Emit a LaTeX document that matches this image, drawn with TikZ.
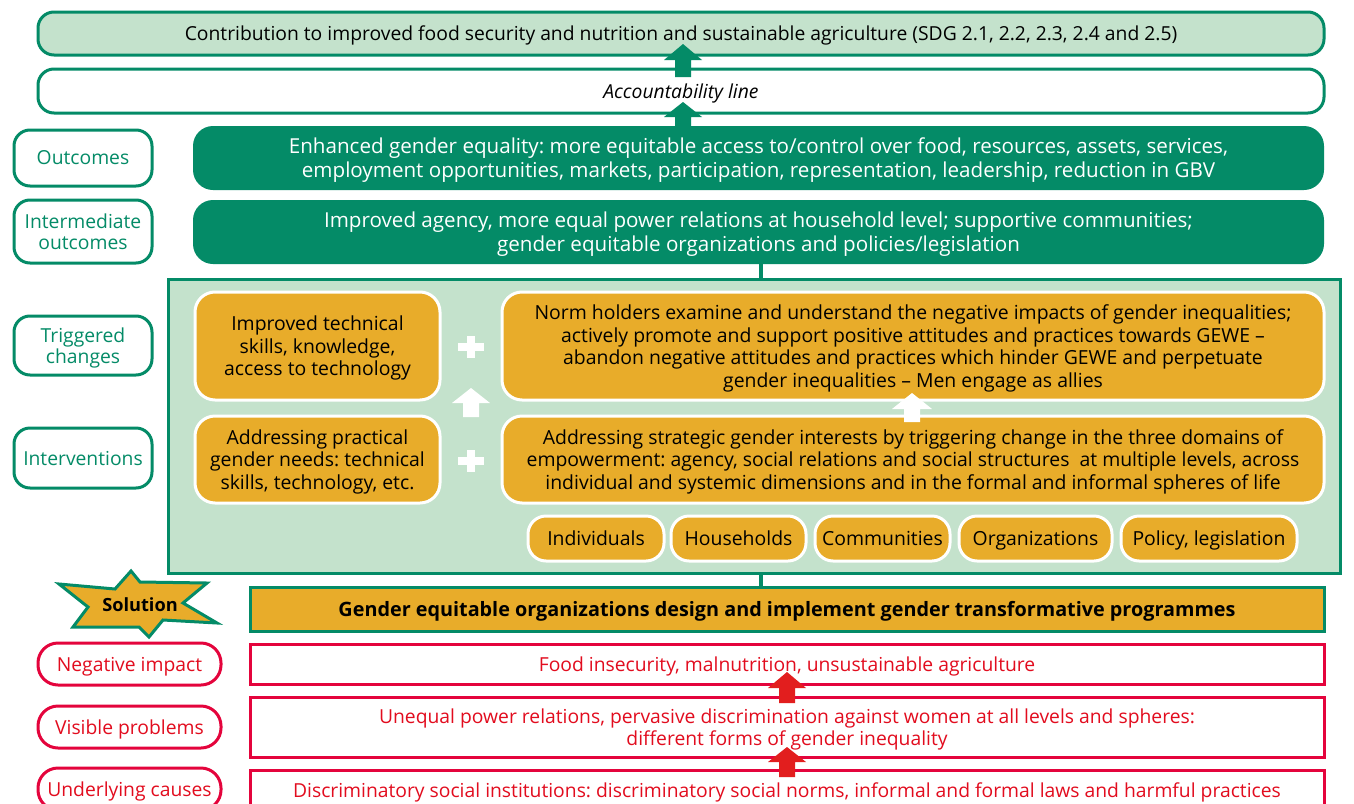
\documentclass[tikz,border=0pt]{standalone}
\usepackage{fontspec}
\setmainfont{Open Sans}
\frenchspacing
\definecolor{dkgreen}{RGB}{4,139,103}
\definecolor{ltgreen}{RGB}{196,226,204}
\definecolor{gold}{RGB}{232,172,42}
\definecolor{crim}{RGB}{228,4,60}
\definecolor{redtxt}{RGB}{226,12,30}
\definecolor{redarrow}{RGB}{226,30,30}
\newcommand\fs[2]{\fontsize{#1}{#2}\selectfont}
\newcommand\blkarrow[7]{%
  \fill[#1] ({#2-#6},#4) -- (#2,#3) -- ({#2+#6},#4) -- ({#2+#7},#4) -- ({#2+#7},#5) -- ({#2-#7},#5) -- ({#2-#7},#4) -- cycle;}
\newcommand\plussign[2]{%
  \fill[white] ({#1-13},{#2-4}) rectangle ({#1+13},{#2+4});
  \fill[white] ({#1-4},{#2-11}) rectangle ({#1+4},{#2+11});}
\begin{document}
\begin{tikzpicture}[x=1pt,y=-1pt,
  every node/.style={inner sep=0pt, align=center, text depth=0pt},
  gbox/.style={draw=dkgreen, line width=3pt, rounded corners=16pt, fill=ltgreen, font=\fs{19.3}{22}},
  lbl/.style={draw=dkgreen, line width=3pt, rounded corners=16pt, fill=white, text=dkgreen, minimum width=138pt, font=\fs{19.3}{21}},
  dbox/.style={fill=dkgreen, rounded corners=20pt, text=white, minimum width=1131pt, minimum height=64pt, font=\fs{20.6}{24}},
  obox/.style={fill=gold, draw=white, line width=3pt, rounded corners=20pt, font=\fs{19.4}{22.5}},
  pill/.style={obox, rounded corners=18pt, minimum height=45pt, text height=14pt},
  rbox/.style={draw=crim, line width=3pt, fill=white, text=redtxt, minimum width=1074pt, font=\fs{19.3}{22}},
  rlbl/.style={draw=crim, line width=3pt, fill=white, text=redtxt, rounded corners=20pt, minimum width=183pt, minimum height=42pt, font=\fs{19.3}{22}}
]
\useasboundingbox (0,0) rectangle (1354,803);

% top boxes
\node[gbox, minimum width=1286pt, minimum height=43pt] (top) at (681,33.5) {Contribution to improved food security and nutrition and sustainable agriculture (SDG 2.1, 2.2, 2.3, 2.4 and 2.5)};
\node[gbox, fill=white, minimum width=1286pt, minimum height=44pt] (acc) at (681,91) {\itshape Accountability line};

% outcomes
\node[dbox] (outc) at (758.5,158) {Enhanced gender equality: more equitable access to/control over food, resources, assets, services,\\employment opportunities, markets, participation, representation, leadership, reduction in GBV};
\node[dbox] (inter) at (758.5,232) {Improved agency, more equal power relations at household level; supportive communities;\\gender equitable organizations and policies/legislation};

% green block arrows
\blkarrow{dkgreen}{683}{44}{60}{77}{19}{8}
\blkarrow{dkgreen}{683}{102}{117}{130}{19}{8}

% left labels
\node[lbl, minimum height=56pt] (lout) at (83,158) {Outcomes};
\node[lbl, minimum height=63pt] (linter) at (83,231.5) {Intermediate\\outcomes};
\node[lbl, minimum height=59pt] (ltrig) at (83,345.5) {Triggered\\changes};
\node[lbl, minimum height=60pt] (lint) at (83,458) {Interventions};

% big light green box
\node[draw=dkgreen, line width=3pt, fill=ltgreen, minimum width=1172pt, minimum height=294pt] (big) at (754,426) {};
\draw[dkgreen, line width=4pt] (inter.south -| 761,0) -- (big.north -| 761,0);

% orange boxes
\node[obox, minimum width=245pt, minimum height=108pt] (imp) at (317.5,346) {Improved technical\\skills, knowledge,\\access to technology};
\node[obox, minimum width=245pt, minimum height=87pt] (prac) at (317.5,459.5) {Addressing practical\\gender needs: technical\\skills, technology, etc.};
\node[obox, minimum width=822pt, minimum height=108pt] (norm) at (913,346) {Norm holders examine and understand the negative impacts of gender inequalities;\\actively promote and support positive attitudes and practices towards GEWE –\\abandon negative attitudes and practices which hinder GEWE and perpetuate\\gender inequalities – Men engage as allies};
\node[obox, minimum width=822pt, minimum height=87pt] (strat) at (913,459.5) {Addressing strategic gender interests by triggering change in the three domains of\\empowerment: agency, social relations and social structures\ \ at multiple levels, across\\individual and systemic dimensions and in the formal and informal spheres of life};

% pills
\node[pill, minimum width=136pt] (p1) at (596,538.5) {Individuals};
\node[pill, minimum width=135pt] (p2) at (738.5,538.5) {Households};
\node[pill, minimum width=135pt] (p3) at (882.5,538.5) {Communities};
\node[pill, minimum width=153pt] (p4) at (1035.5,538.5) {Organizations};
\node[pill, minimum width=176pt] (p5) at (1209,538.5) {Policy, legislation};

% plus signs and white arrows
\plussign{471}{347}
\plussign{471}{461}
\blkarrow{white}{471}{388}{403}{417}{19}{8}
\blkarrow{white}{912}{393}{409}{422}{20}{8}

% solution
\node[draw=dkgreen, line width=3pt, fill=gold, minimum width=1074pt, minimum height=44pt, font=\fs{19.8}{22}\bfseries] (sol) at (787,609) {Gender equitable organizations design and implement gender transformative programmes};
\draw[dkgreen, line width=4pt] (big.south -| 761,0) -- (sol.north -| 761,0);

\draw[dkgreen, line width=3pt, fill=gold, line join=miter]
  (131,571) -- (140,582) -- (207,583) -- (183,603) -- (217,623) -- (163,620) -- (149,637) -- (139,627) -- (73,627) -- (88,607) -- (59,584) -- (115,589) -- cycle;
\node[font=\fs{18.2}{20}\bfseries] (star) at (140,605) {Solution};

% red boxes
\node[rbox, minimum height=40pt] (neg) at (787,664) {Food insecurity, malnutrition, unsustainable agriculture};
\node[rbox, minimum height=60pt] (vis) at (787,727) {Unequal power relations, pervasive discrimination against women at all levels and spheres:\\different forms of gender inequality};
\node[rbox, minimum height=40pt, anchor=north] (und) at (787,769) {Discriminatory social institutions: discriminatory social norms, informal and formal laws and harmful practices};

\blkarrow{redarrow}{787}{672}{688}{703}{19}{8}
\blkarrow{redarrow}{787}{747}{762}{777}{19}{8}

\node[rlbl] (lneg) at (129.5,664) {Negative impact};
\node[rlbl] (lvis) at (129.5,727) {Visible problems};
\node[rlbl] (lund) at (129.5,789) {Underlying causes};
\end{tikzpicture}
\end{document}
